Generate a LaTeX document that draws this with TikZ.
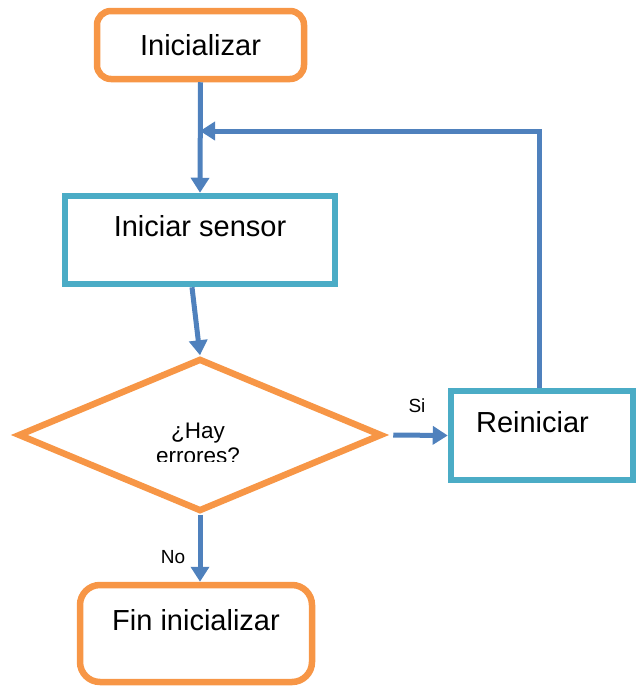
\documentclass[tikz,border=0pt]{standalone}
\usepackage{fontspec}
\setmainfont{Liberation Sans}
\usetikzlibrary{shapes.geometric,arrows.meta}
\definecolor{flowOrange}{HTML}{F79646}
\definecolor{flowTeal}{HTML}{4BACC6}
\definecolor{flowBlue}{HTML}{4F81BD}
\begin{document}
\begin{tikzpicture}[x=1pt,y=-1pt,
  box/.style={draw, line width=6.5pt, inner sep=0pt, font=\fontsize{29}{35}\selectfont},
  startend/.style={box, draw=flowOrange, rounded corners=14pt},
  process/.style={box, draw=flowTeal},
  raised/.style={text height=20pt, text depth=27pt},
  decision/.style={diamond, draw=flowOrange, line width=6.5pt, inner sep=0pt},
  flow/.style={draw=flowBlue, line width=5pt, -{Triangle[width=18pt,length=15pt]}},
  answer/.style={font=\fontsize{19}{23}\selectfont}]
\useasboundingbox (0,0) rectangle (636,688);

% blocks of the flow
\node[startend, minimum width=207pt, minimum height=68pt] (init) at (200.5,45) {Inicializar};
\node[process, raised, minimum width=270pt, minimum height=88pt] (sensor) at (200,240) {Iniciar sensor};
\node[decision, minimum width=364pt, minimum height=153pt] (dia) at (200,435) {};
\node[process, raised, minimum width=182pt, minimum height=89pt] (rein) at (542,435.5) {Reiniciar\kern19pt};
\node[startend, raised, rounded corners=20pt, minimum width=232pt, minimum height=97pt] (fin) at (196,633.5) {Fin inicializar};

% question text, cut off at the bottom
\begin{scope}
  \clip (0,0) rectangle (636,461);
  \node[align=center, font=\fontsize{22.5}{25}\selectfont] (q) at (198,443) {¿Hay\\errores?};
\end{scope}

% connectors
\coordinate (join) at (200,131);
\draw[flow] (init.south) -- (sensor.north);
\draw[flow] ([xshift=-8pt]sensor.south) -- (dia.north);
\draw[flow] ([xshift=8pt]dia.east) -- (rein.west);
\draw[flow] (dia.south) -- (dia.south |- fin.north);
\draw[flow] ([xshift=-3pt]rein.north) |- (join);

% branch labels
\node[answer] (si) at (417,406) {Si};
\node[answer] (no) at (173,557) {No};
\end{tikzpicture}
\end{document}
